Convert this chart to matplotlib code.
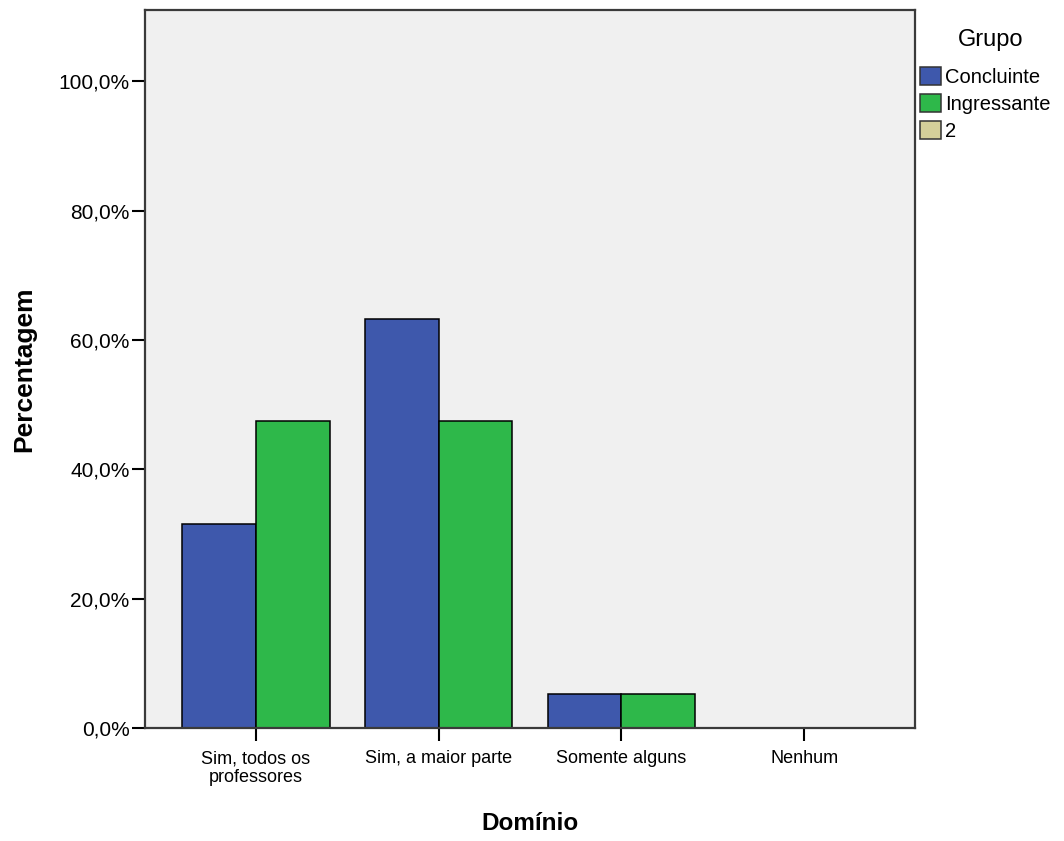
import numpy as np
import matplotlib
matplotlib.use("Agg")
import matplotlib.pyplot as plt
from matplotlib.patches import Patch
from matplotlib.ticker import FuncFormatter

plt.rcParams['font.family'] = ['Liberation Sans', 'DejaVu Sans']

# Data
categorias = ["Sim, todos os\nprofessores", "Sim, a maior parte", "Somente alguns", "Nenhum"]
concluinte = [31.6, 63.2, 5.3, 0.0]
ingressante = [47.4, 47.4, 5.3, 0.0]
grupos = ["Concluinte", "Ingressante", "2"]
cores = ["#3e58ac", "#2eb84a", "#d5d09a"]

W, H = 1064, 841
fig = plt.figure(figsize=(W / 100, H / 100), dpi=100)
ax = fig.add_axes([145 / W, (H - 728) / H, 770 / W, 718 / H])
ax.set_facecolor("#f0f0f0")

x = np.arange(len(categorias))
w = 0.404
ax.bar(x - w / 2, concluinte, w, color=cores[0], edgecolor="black", linewidth=1.1)
ax.bar(x + w / 2, ingressante, w, color=cores[1], edgecolor="black", linewidth=1.1)

ax.set_xlim(-0.607, 3.607)
ax.set_ylim(0, 111)
ax.set_xticks(x)
ax.set_xticklabels(categorias, fontsize=13, linespacing=1.1,
                   family=['Liberation Sans Narrow', 'Liberation Sans'])
ax.set_yticks(np.arange(0, 101, 20))
ax.yaxis.set_major_formatter(FuncFormatter(lambda v, p: f"{v:.1f}%".replace(".", ",")))
ax.tick_params(axis="y", labelsize=15, length=9.5, width=1.5, direction="out", pad=1.5)
ax.tick_params(axis="x", length=9.5, width=1.5, direction="out", pad=6.5)

for s in ax.spines.values():
    s.set_linewidth(1.6)
    s.set_color("#3a3a3a")

ax.set_xlabel("Domínio", fontsize=17.5, fontweight="bold", labelpad=19)
ax.set_ylabel("Percentagem", fontsize=19, fontweight="bold", labelpad=16)

# legend (title drawn separately to match spacing)
fig.text(991 / W, 1 - 40 / H, "Grupo", fontsize=17, ha="center", va="center")
handles = [Patch(facecolor=c, edgecolor="#333333", linewidth=1.1) for c in cores]
leg = fig.legend(handles, grupos, loc="upper left",
                 bbox_to_anchor=(920 / W, 1 - 67 / H), frameon=False,
                 fontsize=14.5, handlelength=1.05, handleheight=1.0,
                 handletextpad=0.2, labelspacing=0.36,
                 borderpad=0, borderaxespad=0)

fig.savefig("out.png", dpi=100)
